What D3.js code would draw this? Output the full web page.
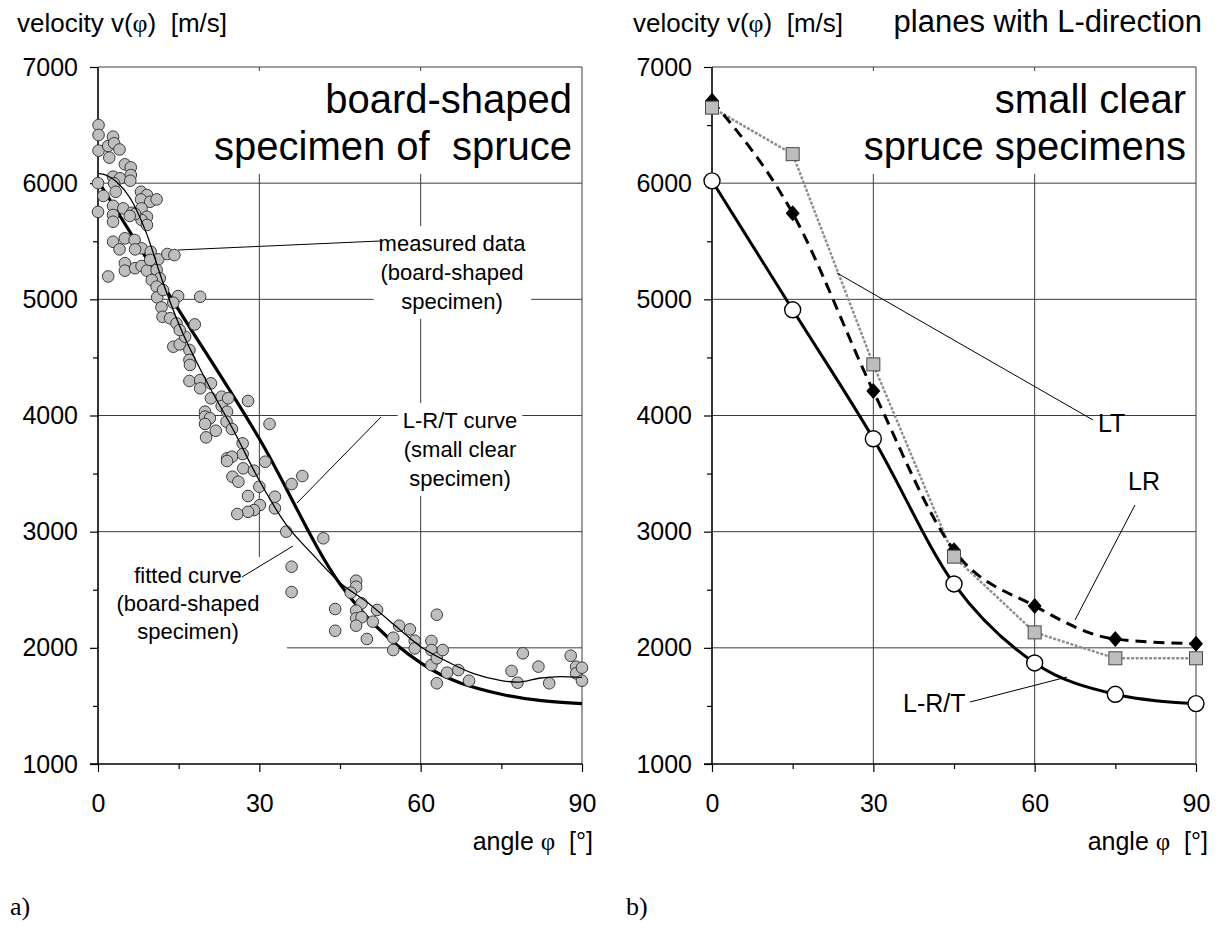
<!DOCTYPE html>
<html><head><meta charset="utf-8">
<script src="https://cdn.jsdelivr.net/npm/d3@7"></script>
<style>
body{margin:0;background:#fff;}
svg text{font-family:"Liberation Sans",Arial,sans-serif;fill:#000;white-space:pre;}
.serif{font-family:"Liberation Serif","Times New Roman",serif;}
</style></head><body>
<svg id="chart" width="1220" height="928"></svg>
<script>
// Axis ticks shared by both panels
const velocityTicks = [1000, 2000, 3000, 4000, 5000, 6000, 7000];
const velocityMinor = [1500, 2500, 3500, 4500, 5500, 6500];
const angleTicks = [0, 30, 60, 90];
const angleMinor = [15, 45, 75];

// Panel a: measurements on the board-shaped specimen
const measuredAngle = [
  0.1,0.1,0.1,1.9,2.8,3.0,4.0,2.1,5.0,6.1,
  2.8,4.1,6.1,6.0,3.0,3.3,0,1.0,0,2.8,2.8,2.8,
  4.7,6.3,8.0,9.1,8.0,9.7,10.9,8.1,9.1,8.1,9.1,6.9,5.9,
  2.8,4.0,5.0,6.8,8.1,6.9,9.8,11.2,12.9,14.2,1.9,
  5.0,5.0,6.9,8.1,9.1,9.7,10.9,11.5,10.0,
  10.9,11.0,12.1,14.9,14.0,19.0,11.8,12.0,13.4,14.6,18.0,
  14.0,15.2,16.2,17.0,15.2,17.0,17.1,
  17.0,19.0,19.0,21.0,21.0,23.0,23.0,24.2,24.0,27.9,
  19.9,19.9,20.8,19.9,21.9,23.9,24.9,20.1,31.9,
  26.9,26.9,24.0,24.9,24.0,27.0,29.0,31.1,25.0,26.1,36.0,38.0,
  30.0,32.9,27.9,32.9,30.1,29.0,27.9,25.9,35.0,41.9,36.0,36.0,
  44.1,44.1,48.0,48.0,47.0,49.0,48.0,48.0,49.0,48.0,50.0,51.1,51.9,
  54.9,54.9,56.0,58.0,58.9,58.9,63.0,
  62.0,62.0,62.0,63.0,64.1,64.9,67.0,63.0,69.0,
  79.0,76.9,78.0,81.9,83.9,87.9,88.9,88.9,90.0,90.0
];
const measuredVelocity = [
  6500,6415,6280,6320,6400,6343,6290,6220,6162,6136,
  6056,6042,6070,6021,5998,5926,6000,5890,5753,5805,5726,5668,
  5783,5745,5926,5898,5860,5840,5860,5783,5711,5683,5640,5735,5718,
  5496,5430,5525,5511,5439,5430,5410,5344,5390,5381,5197,
  5311,5247,5268,5287,5247,5339,5253,5181,5166,
  5109,5017,5080,5028,4971,5022,4931,4850,4837,4793,4784,
  4592,4612,4678,4564,4736,4478,4435,
  4297,4305,4234,4277,4148,4162,4082,4148,4033,4125,
  4033,3990,3976,3927,3869,3947,3884,3812,3927,
  3760,3668,3631,3645,3608,3545,3525,3602,3473,3430,3410,3479,
  3387,3301,3307,3201,3229,3186,3171,3152,3000,2943,2698,2480,
  2334,2147,2578,2526,2475,2383,2320,2254,2263,2191,2076,2225,2326,
  2087,1981,2190,2159,2061,1995,2285,
  2059,1981,1852,1910,1981,1786,1809,1695,1717,
  1953,1801,1700,1838,1695,1932,1838,1780,1829,1717
];
// Fitted curve for the board-shaped specimen
const fittedAngle = [0,1.5,3.5,6,9,12,15,20,25,30,35,40,45,50,55,60,65,70,75,78,82,86,90];
const fittedVelocity = [6085,6070,6010,5870,5570,5155,4790,4310,3890,3440,3060,2800,2560,2395,2200,2010,1880,1775,1718,1705,1738,1752,1745];

// Panel b: small clear spruce specimens, planes containing the L-direction
const dirAngle = [0, 15, 30, 45, 60, 75, 90];
const lrtVelocity = [6020, 4910, 3800, 2550, 1870, 1600, 1520];
const lrVelocity  = [6710, 5740, 4210, 2840, 2360, 2075, 2035];
const ltVelocity  = [6650, 6250, 4440, 2785, 2133, 1910, 1910];

const svg = d3.select("#chart");

function makePanel(box) {
  const x = d3.scaleLinear().domain([0, 90]).range([box.left, box.right]);
  const y = d3.scaleLinear().domain([1000, 7000]).range([box.bottom, box.top]);
  const g = svg.append("g");
  const grid = g.append("g").attr("stroke", "#3c3c3c").attr("stroke-width", 1);
  grid.selectAll("line.h").data(velocityTicks.slice(1)).join("line")
    .attr("x1", box.left).attr("x2", box.right)
    .attr("y1", d => y(d)).attr("y2", d => y(d));
  grid.selectAll("line.v").data(angleTicks.slice(1)).join("line")
    .attr("y1", box.top).attr("y2", box.bottom)
    .attr("x1", d => x(d)).attr("x2", d => x(d));
  const masks = g.append("g");
  const axes = g.append("g");
  const plot = g.append("g");
  const notes = g.append("g");
  return {x, y, g, masks, axes, plot, notes, box};
}

function drawAxes(p) {
  const {x, y, axes, box} = p;
  const ay = axes.append("g").attr("transform", `translate(${box.left},0)`)
    .call(d3.axisLeft(y).tickValues(velocityTicks).tickSize(8).tickPadding(12).tickFormat(d3.format("d")));
  axes.append("g").attr("transform", `translate(${box.left},0)`)
    .call(d3.axisLeft(y).tickValues(velocityMinor).tickSize(5).tickFormat(""))
    .select(".domain").remove();
  const ax = axes.append("g").attr("transform", `translate(0,${box.bottom})`)
    .call(d3.axisBottom(x).tickValues(angleTicks).tickSize(8).tickPadding(22));
  axes.append("g").attr("transform", `translate(0,${box.bottom})`)
    .call(d3.axisBottom(x).tickValues(angleMinor).tickSize(5).tickFormat(""))
    .select(".domain").remove();
  ay.select(".domain").remove();
  ax.select(".domain").remove();
  axes.append("line").attr("x1", box.left).attr("x2", box.left)
    .attr("y1", box.top).attr("y2", box.bottom + 1).attr("stroke", "#000").attr("stroke-width", 1.6);
  axes.append("line").attr("x1", box.left - 8).attr("x2", box.right)
    .attr("y1", box.bottom).attr("y2", box.bottom).attr("stroke", "#000").attr("stroke-width", 1.6);
  axes.selectAll(".tick line").attr("stroke", "#000").attr("stroke-width", 1.2);
  axes.selectAll(".tick text").attr("font-size", 25).attr("font-family", '"Liberation Sans",Arial,sans-serif');
}

// Text block with a white backing that hides the gridlines behind it
function textBlock(p, lines, opts) {
  const t = p.notes.append("text")
    .attr("font-size", opts.size).attr("text-anchor", opts.anchor || "middle");
  lines.forEach((s, i) => {
    t.append("tspan").attr("x", opts.x).attr("y", opts.y + i * opts.lead).text(s);
  });
  const bb = t.node().getBBox();
  const pad = opts.pad == null ? 5 : opts.pad;
  let x0 = bb.x - pad, x1 = bb.x + bb.width + pad, y0 = bb.y - pad, y1 = bb.y + bb.height + pad;
  if (opts.extendLeft) x0 = p.box.left + 1;
  if (opts.extendRight) x1 = opts.extendRight;
  if (opts.extendDown) y1 = p.box.bottom - 1;
  p.masks.append("rect").attr("x", x0).attr("y", y0)
    .attr("width", x1 - x0).attr("height", y1 - y0).attr("fill", "#fff");
  return t;
}

function leader(p, pts) {
  p.notes.append("path").attr("d", d3.line()(pts))
    .attr("fill", "none").attr("stroke", "#000").attr("stroke-width", 1);
}

// ---------- panel a ----------
const A = makePanel({left: 98, right: 582, top: 67, bottom: 764});
drawAxes(A);

A.plot.append("path")
  .datum(d3.zip(dirAngle, lrtVelocity))
  .attr("d", d3.line().x(d => A.x(d[0])).y(d => A.y(d[1])).curve(d3.curveMonotoneX))
  .attr("fill", "none").attr("stroke", "#000").attr("stroke-width", 3.2);

A.plot.selectAll("circle.m").data(d3.zip(measuredAngle, measuredVelocity)).join("circle")
  .attr("cx", d => A.x(d[0])).attr("cy", d => A.y(d[1])).attr("r", 5.8)
  .attr("fill", "#bebebe").attr("stroke", "#3a3a3a").attr("stroke-width", 1);

A.plot.append("path")
  .datum(d3.zip(fittedAngle, fittedVelocity))
  .attr("d", d3.line().x(d => A.x(d[0])).y(d => A.y(d[1])).curve(d3.curveMonotoneX))
  .attr("fill", "none").attr("stroke", "#000").attr("stroke-width", 1.3);

textBlock(A, ["board-shaped", "specimen of  spruce"], {x: 572, y: 113, lead: 47, size: 40, anchor: "end", pad: 6});
textBlock(A, ["measured data", "(board-shaped", "specimen)"], {x: 452, y: 251, lead: 29, size: 22});
textBlock(A, ["L-R/T curve", "(small clear", "specimen)"], {x: 460, y: 428, lead: 29, size: 22});
textBlock(A, ["fitted curve", "(board-shaped", "specimen)"], {x: 188, y: 583, lead: 28, size: 22, extendLeft: true, extendRight: 287, extendDown: true, pad: 6});

leader(A, [[178, 250], [380, 241]]);
leader(A, [[297, 503], [381, 417]]);
leader(A, [[293, 546], [242, 577]]);

// ---------- panel b ----------
const B = makePanel({left: 712, right: 1196, top: 67, bottom: 764});
drawAxes(B);

const smooth = d3.line().x(d => B.x(d[0])).y(d => B.y(d[1])).curve(d3.curveMonotoneX);
const straight = d3.line().x(d => B.x(d[0])).y(d => B.y(d[1]));

B.plot.append("path").datum(d3.zip(dirAngle, ltVelocity)).attr("d", straight)
  .attr("fill", "none").attr("stroke", "#8e8e8e").attr("stroke-width", 2.4)
  .attr("stroke-dasharray", "3,1.5");
B.plot.append("path").datum(d3.zip(dirAngle, lrtVelocity)).attr("d", smooth)
  .attr("fill", "none").attr("stroke", "#000").attr("stroke-width", 3);
B.plot.append("path").datum(d3.zip(dirAngle, lrVelocity)).attr("d", smooth)
  .attr("fill", "none").attr("stroke", "#000").attr("stroke-width", 3)
  .attr("stroke-dasharray", "11,7");

B.plot.selectAll("path.lr").data(d3.zip(dirAngle, lrVelocity)).join("path")
  .attr("transform", d => `translate(${B.x(d[0])},${B.y(d[1])})`)
  .attr("d", "M0,-8L7,0L0,8L-7,0Z").attr("fill", "#000");
B.plot.selectAll("rect.lt").data(d3.zip(dirAngle, ltVelocity)).join("rect")
  .attr("x", d => B.x(d[0]) - 6.5).attr("y", d => B.y(d[1]) - 6.5)
  .attr("width", 13).attr("height", 13)
  .attr("fill", "#bdbdbd").attr("stroke", "#4a4a4a").attr("stroke-width", 1);
B.plot.selectAll("circle.lrt").data(d3.zip(dirAngle, lrtVelocity)).join("circle")
  .attr("cx", d => B.x(d[0])).attr("cy", d => B.y(d[1])).attr("r", 8)
  .attr("fill", "#fff").attr("stroke", "#000").attr("stroke-width", 1.4);

textBlock(B, ["small clear", "spruce specimens"], {x: 1186, y: 113, lead: 47, size: 40, anchor: "end", pad: 6});
B.notes.append("text").attr("x", 1098).attr("y", 432).attr("font-size", 25).text("LT");
B.notes.append("text").attr("x", 1128).attr("y", 490).attr("font-size", 25).text("LR");
B.notes.append("text").attr("x", 903).attr("y", 712).attr("font-size", 25).text("L-R/T");
leader(B, [[837, 273], [1093, 420]]);
leader(B, [[1135, 505], [1075, 620]]);
leader(B, [[970, 702], [1067, 677]]);

// ---------- headers, axis titles, panel letters ----------
function header(x, y) {
  const t = svg.append("text").attr("x", x).attr("y", y).attr("font-size", 26);
  t.append("tspan").text("velocity v(");
  t.append("tspan").attr("class", "serif").text("φ");
  t.append("tspan").text(")  [m/s]");
}
header(17, 32);
header(633, 32);
svg.append("text").attr("x", 1202).attr("y", 32).attr("font-size", 31)
  .attr("text-anchor", "end").text("planes with L-direction");

function angleLabel(x, y) {
  const t = svg.append("text").attr("x", x).attr("y", y).attr("font-size", 25).attr("text-anchor", "end");
  t.append("tspan").text("angle ");
  t.append("tspan").attr("class", "serif").text("φ");
  t.append("tspan").text("  [°]");
}
angleLabel(593, 850);
angleLabel(1208, 850);

svg.append("text").attr("class", "serif").attr("x", 10).attr("y", 915).attr("font-size", 26).text("a)");
svg.append("text").attr("class", "serif").attr("x", 626).attr("y", 915).attr("font-size", 26).text("b)");
</script>
</body></html>
